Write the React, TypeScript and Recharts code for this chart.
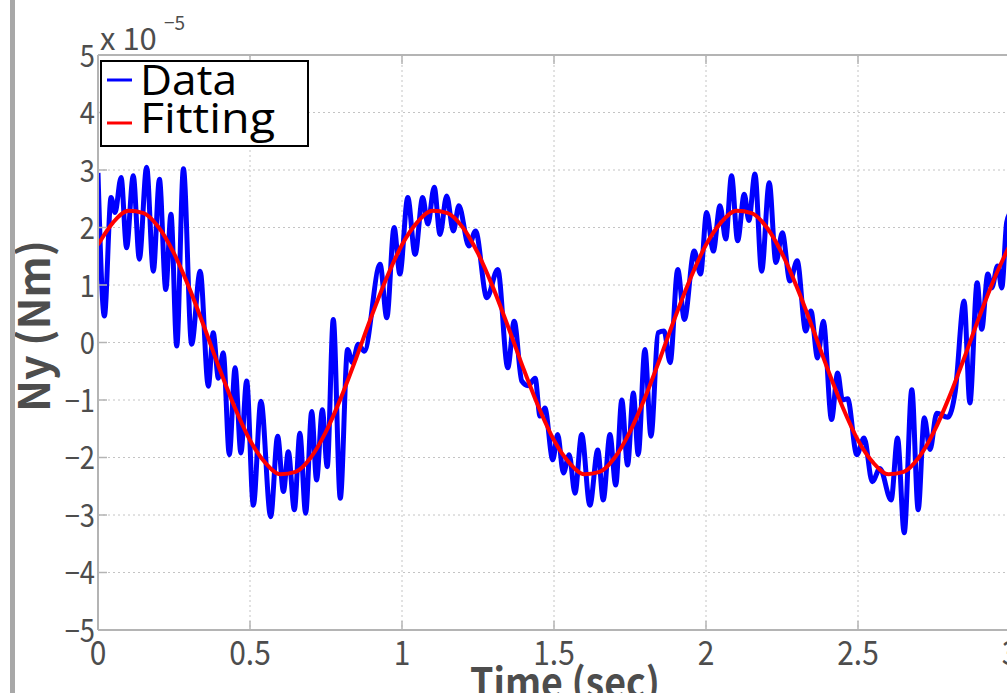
import React from 'react';
import { LineChart, Line, XAxis, YAxis, CartesianGrid, Legend, ReferenceLine, Label } from 'recharts';

// ---- axis ticks ----
const xTicks = [0, 0.5, 1, 1.5, 2, 2.5, 3];
const xTickLabels = ['0', '0.5', '1', '1.5', '2', '2.5', '3'];
const yTicks = [-5, -4, -3, -2, -1, 0, 1, 2, 3, 4, 5];
const yTickLabels = ['−5', '−4', '−3', '−2', '−1', '0', '1', '2', '3', '4', '5'];

// ---- measured data (Ny, units of 1e-5 Nm) ----
const dataTime = [
  0.000, 0.021, 0.043, 0.056, 0.076, 0.094, 0.116, 0.136, 0.160, 0.182,
  0.202, 0.223, 0.240, 0.259, 0.281, 0.308, 0.336, 0.363, 0.379, 0.396,
  0.412, 0.432, 0.451, 0.470, 0.489, 0.511, 0.536, 0.568, 0.591, 0.610,
  0.626, 0.646, 0.664, 0.683, 0.703, 0.719, 0.738, 0.754, 0.774, 0.797,
  0.821, 0.837, 0.856, 0.876, 0.928, 0.950, 0.974, 0.993, 1.019, 1.043,
  1.068, 1.085, 1.106, 1.125, 1.147, 1.169, 1.187, 1.220, 1.242, 1.279,
  1.315, 1.348, 1.369, 1.394, 1.415, 1.438, 1.454, 1.470, 1.496, 1.512,
  1.531, 1.550, 1.569, 1.591, 1.618, 1.644, 1.662, 1.684, 1.703, 1.723,
  1.742, 1.761, 1.777, 1.799, 1.819, 1.843, 1.862, 1.882, 1.907, 1.929,
  1.961, 1.982, 2.002, 2.024, 2.046, 2.065, 2.084, 2.104, 2.126, 2.141,
  2.161, 2.183, 2.208, 2.230, 2.251, 2.276, 2.300, 2.328, 2.345, 2.367,
  2.386, 2.413, 2.433, 2.449, 2.466, 2.496, 2.520, 2.547, 2.572, 2.609,
  2.630, 2.652, 2.677, 2.698, 2.718, 2.737, 2.759, 2.795, 2.820, 2.849,
  2.868, 2.892, 2.907, 2.927, 2.940, 2.959, 2.973, 2.989, 3.000,
];
const dataValue = [
  2.95, 0.46, 2.52, 2.26, 2.87, 1.65, 2.90, 1.45, 3.05, 1.24,
  2.84, 0.92, 2.23, -0.06, 3.02, -0.03, 1.24, -0.76, 0.17, -0.62,
  -0.18, -1.95, -0.44, -1.92, -0.67, -2.83, -1.02, -3.03, -1.63, -2.59,
  -1.90, -2.91, -1.58, -2.97, -1.20, -2.39, -1.17, -2.16, 0.40, -2.71,
  -0.12, -0.35, -0.03, -0.15, 1.36, 0.43, 2.00, 1.19, 2.52, 1.53,
  2.52, 2.06, 2.70, 1.88, 2.55, 1.94, 2.38, 1.68, 1.94, 0.78,
  1.27, -0.44, 0.37, -0.67, -0.75, -0.62, -1.28, -1.14, -2.04, -1.60,
  -2.27, -1.95, -2.62, -1.60, -2.83, -1.87, -2.74, -1.60, -2.48, -1.00,
  -2.13, -0.88, -1.95, -0.12, -1.63, 0.17, 0.20, -0.35, 1.27, 0.40,
  1.59, 1.19, 2.26, 1.59, 2.38, 1.80, 2.90, 1.77, 2.58, 2.12,
  2.93, 1.24, 2.78, 1.39, 1.91, 1.07, 1.42, 0.20, 0.55, -0.27,
  0.37, -1.34, -0.53, -1.00, -0.98, -1.95, -1.66, -2.42, -2.19, -2.74,
  -1.66, -3.31, -0.82, -2.91, -1.31, -1.86, -1.23, -1.30, -0.85, 0.72,
  -1.05, 1.04, 0.23, 1.19, 0.95, 1.33, 0.95, 2.09, 2.25,
];

// ---- fitted curve ----
const fitTime = [
  0.00, 0.05, 0.10, 0.15, 0.20, 0.25, 0.30, 0.35, 0.40, 0.45,
  0.50, 0.55, 0.60, 0.65, 0.70, 0.75, 0.80, 0.85, 0.90, 0.95,
  1.00, 1.05, 1.10, 1.15, 1.20, 1.25, 1.30, 1.35, 1.40, 1.45,
  1.50, 1.55, 1.60, 1.65, 1.70, 1.75, 1.80, 1.85, 1.90, 1.95,
  2.00, 2.05, 2.10, 2.15, 2.20, 2.25, 2.30, 2.35, 2.40, 2.45,
  2.50, 2.55, 2.60, 2.65, 2.70, 2.75, 2.80, 2.85, 2.90, 2.95,
  3.00,
];
const fitValue = [
  1.70, 2.09, 2.29, 2.25, 2.00, 1.55, 0.95, 0.26, -0.46, -1.13,
  -1.70, -2.09, -2.29, -2.25, -2.00, -1.55, -0.95, -0.26, 0.46, 1.13,
  1.70, 2.09, 2.29, 2.25, 2.00, 1.55, 0.95, 0.26, -0.46, -1.13,
  -1.70, -2.09, -2.29, -2.25, -2.00, -1.55, -0.95, -0.26, 0.46, 1.13,
  1.70, 2.09, 2.29, 2.25, 2.00, 1.55, 0.95, 0.26, -0.46, -1.13,
  -1.70, -2.09, -2.29, -2.25, -2.00, -1.55, -0.95, -0.26, 0.46, 1.13,
  1.70,
];

const seriesNames = ['Data', 'Fitting'];

const blueData = dataTime.map((t, i) => ({ t, v: dataValue[i] }));
const redData = fitTime.map((t, i) => ({ t, f: fitValue[i] }));

const TEXT = '#4d4d4d';
const AXIS = '#b4b4b4';
const TICKFONT = '"Noto Sans CJK JP", "Noto Sans", sans-serif';
const PLOT_TOP = 55;

const XTick = (props: any) => {
  const { x, y, payload } = props;
  const i = xTicks.indexOf(payload.value);
  return (
    <g>
      <line x1={x} x2={x} y1={y} y2={y - 9} stroke={AXIS} strokeWidth={1.5} />
      <line x1={x} x2={x} y1={PLOT_TOP} y2={PLOT_TOP + 9} stroke={AXIS} strokeWidth={1.5} />
      <text
        transform={`translate(${x} ${y + 35}) scale(0.88 1)`}
        textAnchor="middle"
        fontSize={34}
        fill={TEXT}
        fontFamily={TICKFONT}
      >
        {i >= 0 ? xTickLabels[i] : payload.value}
      </text>
    </g>
  );
};

const YTick = (props: any) => {
  const { x, y, payload } = props;
  const i = yTicks.indexOf(payload.value);
  return (
    <g>
      <line x1={x} x2={x + 9} y1={y} y2={y} stroke={AXIS} strokeWidth={1.5} />
      <text
        transform={`translate(${x - 3} ${y + 11.5}) scale(0.88 1)`}
        textAnchor="end"
        fontSize={31}
        fill={TEXT}
        fontFamily={TICKFONT}
      >
        {i >= 0 ? yTickLabels[i] : payload.value}
      </text>
    </g>
  );
};

const LegendBox = () => (
  <div style={{ width: 209, height: 87, boxSizing: 'border-box', border: '2px solid #000', background: '#fff' }}>
    <svg width={205} height={83} style={{ display: 'block', overflow: 'visible' }}>
      <line x1={5} x2={30} y1={18} y2={18} stroke="#0000ff" strokeWidth={3} />
      <line x1={5} x2={30} y1={61} y2={61} stroke="#ff0000" strokeWidth={3} />
      <text x={38} y={33} fontSize={42} fontFamily='"Open Sans", sans-serif' fill="#000" textLength={97} lengthAdjust="spacingAndGlyphs">
        {seriesNames[0]}
      </text>
      <text x={38} y={71} fontSize={42} fontFamily='"Open Sans", sans-serif' fill="#000" textLength={135} lengthAdjust="spacingAndGlyphs">
        {seriesNames[1]}
      </text>
    </svg>
  </div>
);

const YTitle = () => (
  <g>
    <text
      transform="translate(50 326) rotate(-90)"
      textAnchor="middle"
      fontSize={43}
      fontWeight={700}
      fill={TEXT}
      fontFamily={TICKFONT}
      textLength={172}
      lengthAdjust="spacingAndGlyphs"
    >
      Ny (Nm)
    </text>
    <text x={100} y={50} fontSize={31} fill={TEXT} fontFamily={TICKFONT}>
      x 10
    </text>
    <text x={164} y={30} fontSize={19} fill={TEXT} fontFamily={TICKFONT}>
      −5
    </text>
  </g>
);

const XTitle = () => (
  <text
    x={565}
    y={697}
    textAnchor="middle"
    fontSize={40}
    fontWeight={700}
    fill={TEXT}
    fontFamily={TICKFONT}
    textLength={190}
    lengthAdjust="spacingAndGlyphs"
  >
    Time (sec)
  </text>
);

export default function App() {
  return (
    <div style={{ position: 'fixed', left: 0, top: 0, width: 1007, height: 693, overflow: 'hidden', background: '#fff' }}>
      <LineChart width={1030} height={693} margin={{ top: PLOT_TOP, right: 20, bottom: 23, left: 0 }}>
        <CartesianGrid stroke="#c4c4c4" strokeDasharray="2 3" strokeWidth={1} />
        <XAxis
          type="number"
          dataKey="t"
          domain={[0, 3]}
          ticks={xTicks}
          interval={0}
          allowDataOverflow
          height={40}
          tickSize={0}
          tickMargin={0}
          axisLine={{ stroke: AXIS, strokeWidth: 2 }}
          tickLine={false}
          tick={<XTick />}
        >
          <Label content={<XTitle />} />
        </XAxis>
        <YAxis
          type="number"
          domain={[-5, 5]}
          ticks={yTicks}
          interval={0}
          allowDataOverflow
          width={98}
          tickSize={0}
          tickMargin={0}
          axisLine={{ stroke: AXIS, strokeWidth: 2 }}
          tickLine={false}
          tick={<YTick />}
        >
          <Label content={<YTitle />} />
        </YAxis>
        <ReferenceLine y={5} stroke={AXIS} strokeWidth={2} />
        <Line
          data={blueData}
          dataKey="v"
          name={seriesNames[0]}
          type="monotone"
          stroke="#0000ff"
          strokeWidth={5}
          dot={false}
          isAnimationActive={false}
        />
        <Line
          data={redData}
          dataKey="f"
          name={seriesNames[1]}
          type="monotone"
          stroke="#ff0000"
          strokeWidth={4}
          dot={false}
          isAnimationActive={false}
        />
        <Legend
          layout="vertical"
          align="center"
          verticalAlign="middle"
          wrapperStyle={{ position: 'absolute', left: 100, top: 60, width: 209, height: 87 }}
          content={<LegendBox />}
        />
      </LineChart>
      <div style={{ position: 'absolute', left: 10, top: 0, width: 5, height: 693, background: '#a8a8a8' }} />
    </div>
  );
}
